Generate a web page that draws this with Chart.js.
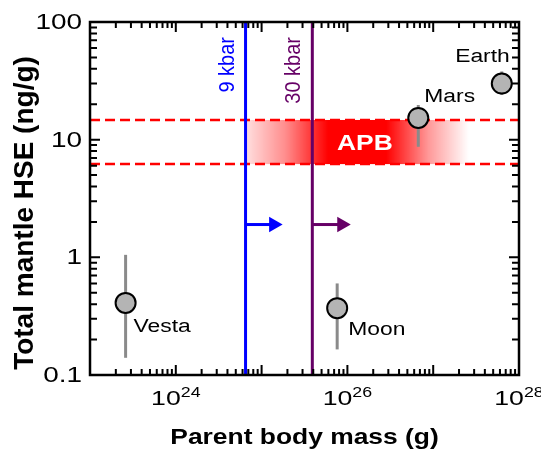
<!DOCTYPE html>
<html>
<head>
<meta charset="utf-8">
<script src="https://cdn.jsdelivr.net/npm/chart.js@4.4.1/dist/chart.umd.min.js"></script>
<style>
  html, body { margin: 0; padding: 0; background: #fff; }
</style>
</head>
<body>
<canvas id="hseChart" width="541" height="450"></canvas>
<script>
// data
const bodies = ['Vesta', 'Moon', 'Mars', 'Earth'];
const bodyMass = [2.6e23, 7.6e25, 6.7e26, 6.3e27];   // g
const bodyHSE = [0.41, 0.37, 15.3, 30];              // ng/g
const hseLow = [0.14, 0.165, 8.7, 24];
const hseHigh = [1.05, 0.6, 19.7, 38];

const apbHSE = [6.2, 14.7];          // dashed bounds
const apbMass = [6.5e24, 2.6e27];    // extent of shaded band
const apbLabelMass = 1.6e26;

const pressureLabels = ['9 kbar', '30 kbar'];
const pressureMass = [6.5e24, 3.9e25];
const arrowTipMass = [1.38e25, 8.6e25];
const arrowHSE = 1.9;

const xRange = [1e23, 1e28];
const yRange = [0.1, 100];
const xTickValues = [1e24, 1e26, 1e28];
const xTickExp = ['24', '26', '28'];
const yTickValues = [0.1, 1, 10, 100];
const yTickLabels = ['0.1', '1', '10', '100'];

const blue = '#0000ff';
const purple = '#660066';
const red = '#ff0000';
const FONT = "'Liberation Sans', Arial, sans-serif";
const SX = 1.27;   // the figure's text is drawn wide

function line(points, color, width, dash) {
  return {
    data: points, showLine: true, borderColor: color, borderWidth: width,
    borderDash: dash || [], pointRadius: 0, fill: false
  };
}

const datasets = [];
// markers (first dataset is drawn on top)
datasets.push({
  data: bodyMass.map((m, i) => ({ x: m, y: bodyHSE[i] })),
  pointRadius: 10, pointBorderWidth: 2,
  pointBackgroundColor: '#b4b4b4', pointBorderColor: '#000'
});
bodyMass.forEach((m, i) => {
  datasets.push(line([{ x: m, y: hseLow[i] }, { x: m, y: hseHigh[i] }], '#8a8a8a', 3));
});
[blue, purple].forEach((c, i) => {
  const ds = line([{ x: pressureMass[i], y: arrowHSE }, { x: arrowTipMass[i], y: arrowHSE }], c, 3);
  ds.pointRadius = [0, 9];
  ds.pointStyle = 'triangle';
  ds.rotation = 90;
  ds.pointBackgroundColor = c;
  ds.pointBorderColor = c;
  ds.pointBorderWidth = 0;
  datasets.push(ds);
  datasets.push(line([{ x: pressureMass[i], y: yRange[0] }, { x: pressureMass[i], y: yRange[1] }], c, 3));
});
apbHSE.forEach(v => {
  datasets.push(line([{ x: xRange[0], y: v }, { x: xRange[1], y: v }], red, 2.5, [10, 5]));
});

function wideText(ctx, text, x, y, align, sx, rot) {
  ctx.save();
  ctx.translate(x, y);
  if (rot) {
    ctx.rotate(-Math.PI / 2);
    ctx.scale(1, sx);
  } else {
    ctx.scale(sx, 1);
  }
  ctx.textAlign = align;
  ctx.fillText(text, 0, 0);
  ctx.restore();
}

function logTicks(min, max) {
  const out = [];
  for (let e = Math.floor(Math.log10(min)); e <= Math.ceil(Math.log10(max)); e++) {
    for (let m = 1; m <= 9; m++) {
      const v = m * Math.pow(10, e);
      if (v >= min * 0.999 && v <= max * 1.001) out.push({ v, major: m === 1 });
    }
  }
  return out;
}

const decor = {
  id: 'decor',
  beforeDatasetsDraw(chart) {
    const { ctx, scales: { x, y } } = chart;
    const x0 = x.getPixelForValue(apbMass[0]);
    const x1 = x.getPixelForValue(apbMass[1]);
    const yt = y.getPixelForValue(apbHSE[1]);
    const yb = y.getPixelForValue(apbHSE[0]);
    const g = ctx.createLinearGradient(x0, 0, x1, 0);
    g.addColorStop(0, 'rgba(255,0,0,0.12)');
    g.addColorStop(0.18, 'rgba(255,0,0,0.45)');
    g.addColorStop(0.37, 'rgba(255,0,0,1)');
    g.addColorStop(0.63, 'rgba(255,0,0,1)');
    g.addColorStop(0.82, 'rgba(255,0,0,0.4)');
    g.addColorStop(1, 'rgba(255,0,0,0)');
    ctx.save();
    ctx.fillStyle = g;
    ctx.fillRect(x0, yt, x1 - x0, yb - yt);
    ctx.restore();
  },
  afterDatasetsDraw(chart) {
    const { ctx, chartArea: a, scales: { x, y } } = chart;
    ctx.save();
    ctx.textBaseline = 'middle';
    // APB
    ctx.fillStyle = '#fff';
    ctx.font = 'bold 22px ' + FONT;
    wideText(ctx, 'APB', x.getPixelForValue(apbLabelMass),
      y.getPixelForValue(Math.sqrt(apbHSE[0] * apbHSE[1])) + 2, 'center', 1.2);
    // body names
    const offs = [[8, 24, 'left'], [11, 22, 'left'], [6, -21, 'left'], [8, -26, 'right']];
    ctx.fillStyle = '#000';
    ctx.font = '18px ' + FONT;
    bodies.forEach((b, i) => {
      const px = x.getPixelForValue(bodyMass[i]);
      const py = y.getPixelForValue(bodyHSE[i]);
      wideText(ctx, b, px + offs[i][0], py + offs[i][1], offs[i][2], SX);
    });
    // pressure labels
    ctx.font = '20px ' + FONT;
    [blue, purple].forEach((c, i) => {
      ctx.fillStyle = c;
      wideText(ctx, pressureLabels[i], x.getPixelForValue(pressureMass[i]) - 18, a.top + 15, 'right', 1.1, true);
    });
    ctx.restore();
  },
  afterDraw(chart) {
    const { ctx, chartArea: a, scales: { x, y } } = chart;
    ctx.save();
    ctx.strokeStyle = '#000';
    ctx.lineWidth = 2;
    ctx.beginPath();
    logTicks(xRange[0], xRange[1]).forEach(t => {
      const px = x.getPixelForValue(t.v);
      const len = t.major ? 10 : 6;
      ctx.moveTo(px, a.bottom); ctx.lineTo(px, a.bottom - len);
      ctx.moveTo(px, a.top); ctx.lineTo(px, a.top + len);
    });
    logTicks(yRange[0], yRange[1]).forEach(t => {
      const py = y.getPixelForValue(t.v);
      const len = t.major ? 10 : 7;
      ctx.moveTo(a.left, py); ctx.lineTo(a.left + len, py);
      ctx.moveTo(a.right, py); ctx.lineTo(a.right - len, py);
    });
    ctx.stroke();
    ctx.lineWidth = 2.5;
    ctx.strokeRect(a.left, a.top, a.right - a.left, a.bottom - a.top);

    // tick labels
    ctx.fillStyle = '#000';
    ctx.font = '22px ' + FONT;
    ctx.textBaseline = 'middle';
    yTickValues.forEach((v, i) => {
      wideText(ctx, yTickLabels[i], a.left - 8, y.getPixelForValue(v) + 1, 'right', SX);
    });
    ctx.textBaseline = 'alphabetic';
    xTickValues.forEach((v, i) => {
      ctx.font = '21px ' + FONT;
      const w1 = ctx.measureText('10').width * SX;
      ctx.font = '14px ' + FONT;
      const w2 = ctx.measureText(xTickExp[i]).width * SX;
      const left = x.getPixelForValue(v) - (w1 + w2) / 2;
      ctx.font = '21px ' + FONT;
      wideText(ctx, '10', left, 405, 'left', SX);
      ctx.font = '14px ' + FONT;
      wideText(ctx, xTickExp[i], left + w1, 397, 'left', SX);
    });

    // axis titles
    ctx.font = 'bold 22px ' + FONT;
    wideText(ctx, 'Parent body mass (g)', (a.left + a.right) / 2, 444, 'center', 1.2);
    ctx.font = 'bold 28px ' + FONT;
    ctx.textBaseline = 'middle';
    wideText(ctx, 'Total mantle HSE (ng/g)', 25, 213, 'center', 1.0, true);
    ctx.restore();
  }
};

new Chart(document.getElementById('hseChart'), {
  type: 'scatter',
  data: { datasets },
  options: {
    responsive: false,
    animation: false,
    events: [],
    layout: { padding: { left: 90, right: 22, top: 22, bottom: 75 } },
    plugins: { legend: { display: false }, tooltip: { enabled: false } },
    scales: {
      x: { type: 'logarithmic', min: xRange[0], max: xRange[1], display: false },
      y: { type: 'logarithmic', min: yRange[0], max: yRange[1], display: false }
    }
  },
  plugins: [decor]
});
</script>
</body>
</html>
